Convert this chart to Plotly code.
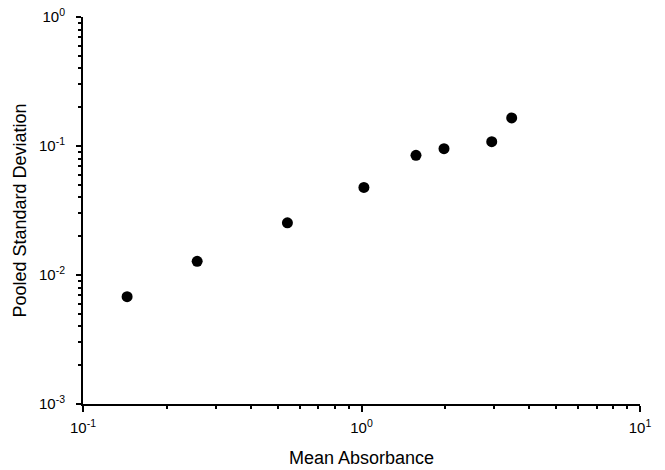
import plotly.graph_objects as go

mean_absorbance = [0.144, 0.257, 0.542, 1.02, 1.569, 1.978, 2.935, 3.462]
pooled_sd = [0.00679, 0.01277, 0.02537, 0.0477, 0.0846, 0.0954, 0.108, 0.165]

x_tickvals = [0.1, 1, 10]
x_ticktext = ["10<sup>-1</sup>", "10<sup>0</sup>", "10<sup>1</sup>"]
y_tickvals = [0.001, 0.01, 0.1, 1]
y_ticktext = ["10<sup>-3</sup>", "10<sup>-2</sup>", "10<sup>-1</sup>", "10<sup>0</sup>"]

def minors(lo, hi):
    out = []
    for e in range(lo, hi):
        for d in range(2, 10):
            out.append(d * 10 ** e)
    return out

font = "Liberation Sans, Arial, sans-serif"

fig = go.Figure(go.Scatter(
    x=mean_absorbance, y=pooled_sd, mode="markers",
    marker=dict(color="black", size=11, line=dict(width=0)),
))

fig.update_layout(
    width=665, height=470,
    margin=dict(l=83, r=25, t=17, b=66, autoexpand=False),
    paper_bgcolor="white", plot_bgcolor="white",
    showlegend=False,
    font=dict(family=font, color="black"),
)
fig.update_xaxes(
    type="log", range=[-1, 1], automargin=False,
    tickmode="array", tickvals=x_tickvals, ticktext=x_ticktext,
    tickfont=dict(size=15),
    ticks="outside", ticklen=6, tickwidth=1.5, tickcolor="black",
    showline=True, linewidth=2, linecolor="black",
    showgrid=False, zeroline=False,
    minor=dict(tickmode="array", tickvals=minors(-1, 1), ticks="outside",
               ticklen=3, tickwidth=1.5, tickcolor="black", showgrid=False),
    ticklabelstandoff=3,
    title=dict(text="Mean Absorbance", font=dict(size=18), standoff=16),
)
fig.update_yaxes(
    type="log", range=[-3, 0], automargin=False,
    tickmode="array", tickvals=y_tickvals, ticktext=y_ticktext,
    tickfont=dict(size=15),
    ticks="outside", ticklen=5, tickwidth=1.5, tickcolor="black",
    showline=True, linewidth=2, linecolor="black",
    showgrid=False, zeroline=False,
    minor=dict(tickmode="array", tickvals=minors(-3, 0), ticks="outside",
               ticklen=3, tickwidth=1.5, tickcolor="black", showgrid=False),
    ticklabelstandoff=8,
    title=dict(text="Pooled Standard Deviation", font=dict(size=18), standoff=8),
)

fig.write_html("out.html", config={"displayModeBar": False},
               post_script="document.body.style.margin='0px';")
